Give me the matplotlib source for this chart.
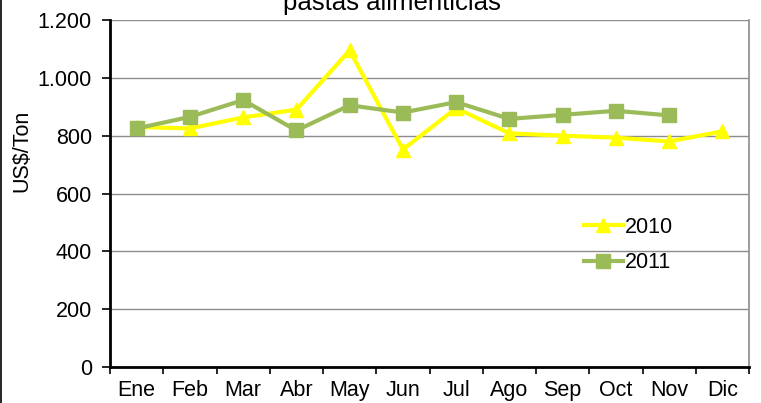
import matplotlib
matplotlib.use("Agg")
import matplotlib.pyplot as plt
from matplotlib.ticker import FixedLocator, FuncFormatter
from matplotlib.lines import Line2D

months = ["Ene", "Feb", "Mar", "Abr", "May", "Jun", "Jul", "Ago", "Sep", "Oct", "Nov", "Dic"]
s2010 = [830, 825, 863, 890, 1095, 752, 895, 808, 800, 793, 780, 815]
s2011 = [825, 865, 923, 818, 905, 880, 916, 858, 872, 886, 870]
title = "pastas alimenticias"
ylabel = "US$/Ton"

plt.rcParams['font.family'] = ['Liberation Sans', 'DejaVu Sans']
FS = 15.5

fig = plt.figure(figsize=(7.61, 4.03), dpi=100)
ax = fig.add_axes([110/761, 1-367/403, (749-110)/761, (367-20)/403])

x = list(range(len(months)))
ax.plot(x, s2010, color="#FFFF00", lw=3, marker="^", ms=10, label="2010", zorder=3)
ax.plot(x[:len(s2011)], s2011, color="#9BBB59", lw=3, marker="s", ms=10, label="2011", zorder=4)

ax.set_xlim(-0.5, len(months)-0.5)
ax.set_ylim(0, 1200)
ax.set_yticks(range(0, 1201, 200))
ax.yaxis.set_major_formatter(FuncFormatter(lambda v, p: f"{int(v):,}".replace(",", ".")))
ax.yaxis.grid(True, color="#8c8c8c", lw=1)
ax.set_axisbelow(True)

ax.xaxis.set_major_locator(FixedLocator(x))
ax.set_xticklabels(months)
ax.xaxis.set_minor_locator(FixedLocator([i - 0.5 for i in range(len(months)+1)]))
ax.tick_params(axis='x', which='major', length=0, pad=9.5, labelsize=FS)
ax.tick_params(axis='x', which='minor', length=5, width=1.2, direction='out')
ax.tick_params(axis='y', length=6, width=1.2, pad=7, labelsize=FS)

for s in ['left', 'bottom']:
    ax.spines[s].set_color('black')
    ax.spines[s].set_linewidth(2)
ax.spines['top'].set_visible(False)
ax.spines['right'].set_color('#8c8c8c')
ax.spines['right'].set_linewidth(1.2)

ax.set_ylabel(ylabel, fontsize=FS)
ax.yaxis.set_label_coords(-0.122, 0.622)

leg = ax.legend(loc='upper left', bbox_to_anchor=(0.729, 0.458), frameon=False,
                fontsize=FS, handlelength=1.77, handletextpad=0.1, labelspacing=0.67,
                borderaxespad=0)

fig.text(392/761, 1-10/403, title, ha='center', va='baseline', fontsize=18.5)

fig.add_artist(Line2D([1.5/761, 1.5/761], [0, 1], color='black', lw=1.2))

fig.savefig("out.png", dpi=100)
